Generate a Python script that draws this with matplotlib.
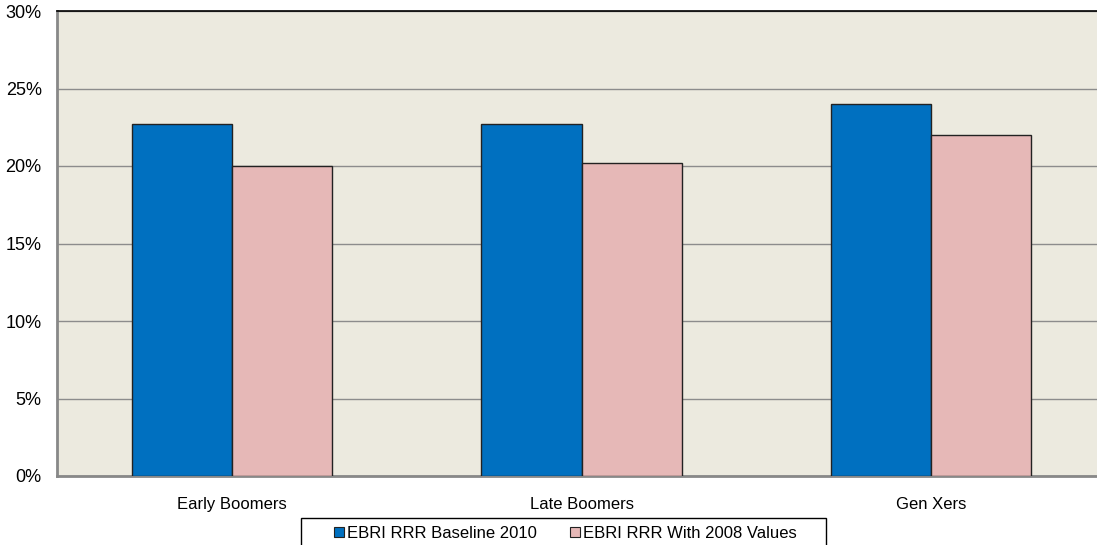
import numpy as np
import matplotlib.pyplot as plt
from matplotlib.patches import Rectangle
from matplotlib.ticker import PercentFormatter

categories = ["Early Boomers", "Late Boomers", "Gen Xers"]
baseline_2010 = [22.7, 22.7, 24.0]
with_2008_values = [20.0, 20.2, 22.0]
series_names = ["EBRI RRR Baseline 2010", "EBRI RRR With 2008 Values"]

blue = "#0070C0"
pink = "#E6B8B7"
bg = "#ECEADF"

plt.rcParams["font.family"] = ["Liberation Sans", "DejaVu Sans"]

fig = plt.figure(figsize=(10.97, 5.45), dpi=100)
ax = fig.add_axes([57 / 1097, 69 / 545, 1049 / 1097, 465 / 545])
ax.set_facecolor(bg)

x = np.arange(len(categories))
w = 0.286
ax.bar(x - w / 2, baseline_2010, w, color=blue, edgecolor="#222222", linewidth=1.0, zorder=3)
ax.bar(x + w / 2, with_2008_values, w, color=pink, edgecolor="#222222", linewidth=1.0, zorder=3)

ax.set_xlim(-0.5, 2.5)
ax.set_ylim(0, 30)
ax.set_yticks(np.arange(0, 31, 5))
ax.yaxis.set_major_formatter(PercentFormatter(decimals=0))
ax.yaxis.grid(True, color="#8c8c8c", linewidth=1.0, zorder=1)
ax.set_xticks(x)
ax.set_xticklabels(categories, fontsize=12)
ax.tick_params(axis="y", labelsize=13, length=0, pad=11)
ax.tick_params(axis="x", length=0, pad=15)

ax.spines["top"].set_color("black")
ax.spines["top"].set_linewidth(1.2)
ax.spines["right"].set_visible(False)
for s in ("left", "bottom"):
    ax.spines[s].set_color("#888888")
    ax.spines[s].set_linewidth(2)

# legend box frame drawn on its own, entries centred inside it
frame = Rectangle((301 / 1097, -0.05), 525 / 1097, 1 - 518 / 545 + 0.05,
                  transform=fig.transFigure, facecolor="white", edgecolor="black",
                  linewidth=1.0)
fig.patches.append(frame)

handles = [Rectangle((0, 0), 1, 1, facecolor=blue, edgecolor="#222222", linewidth=0.8),
           Rectangle((0, 0), 1, 1, facecolor=pink, edgecolor="#222222", linewidth=0.8)]
leg = fig.legend(handles, series_names, loc="upper center",
                 bbox_to_anchor=(565 / 1097, 1 - 524 / 545),
                 ncol=2, fontsize=12, frameon=False,
                 handlelength=0.6, handleheight=0.6, handletextpad=0.18,
                 columnspacing=2.0, borderpad=0.1, borderaxespad=0)

fig.savefig("out.png", dpi=100)
